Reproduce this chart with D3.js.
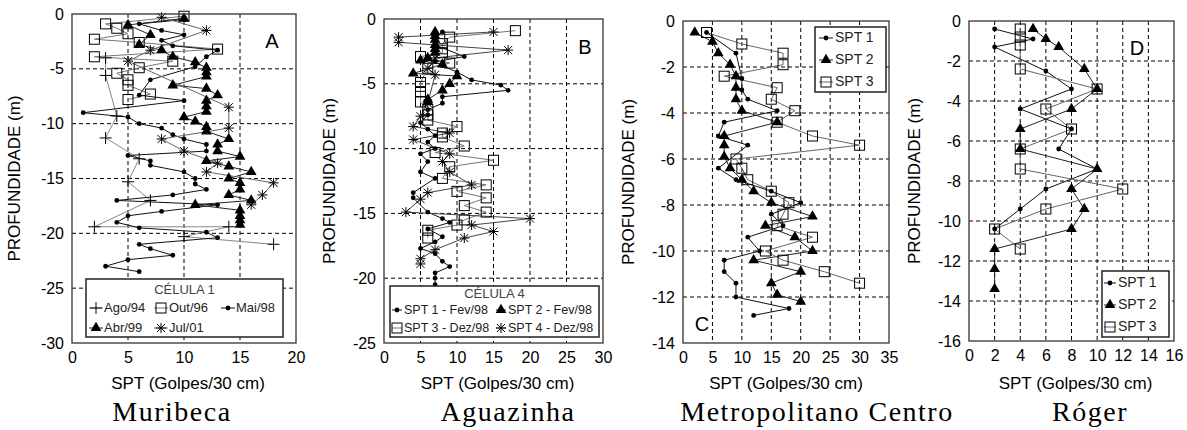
<!DOCTYPE html>
<html>
<head>
<meta charset="utf-8">
<script src="https://cdn.jsdelivr.net/npm/d3@7"></script>
<style>
  body { margin: 0; background: #fff; }
  svg { display: block; }
  text { font-family: "Liberation Sans", Arial, sans-serif; fill: #000; }
</style>
</head>
<body>
<svg id="chart" width="1187" height="430"></svg>
<script>
// ---- Muribeca (Célula 1): [SPT, depth]
const ago94 = [[3,-4.0],[3,-5.6],[4,-9.3],[3,-11.3],[6,-13.2],[5,-15.3],[7,-17.0],[2,-19.4],[14,-19.4],[10,-20.3],[18,-21.0]];
const out96 = [[10,-0.2],[3,-0.9],[4,-1.3],[5,-1.8],[2,-2.3],[6,-2.6],[13,-3.2],[2,-3.9],[9,-4.3],[6,-4.9],[4,-5.4],[5,-6.0],[5,-6.5],[7,-7.3],[5,-7.8]];
const mai98 = [[10,-0.5],[6,-0.9],[8,-1.5],[10,-1.9],[8,-2.4],[9,-2.9],[13,-3.3],[12,-3.9],[11,-4.8],[7,-6.0],[6,-7.4],[10,-7.9],[1,-9.0],[5,-9.4],[6,-10.0],[8,-10.4],[9,-11.0],[10,-11.4],[12,-11.9],[12,-12.5],[5,-12.9],[7,-13.4],[7,-13.8],[10,-14.4],[11,-15.0],[11,-15.5],[12,-16.0],[9,-16.5],[4,-17.0],[13,-17.4],[8,-18.0],[5,-18.4],[4,-19.0],[6,-19.5],[12,-19.9],[13,-20.4],[6,-21.0],[7,-21.4],[9,-22.0],[5,-22.4],[3,-23.0],[6,-23.5]];
const abr99 = [[10,-0.4],[5,-1.0],[7,-1.9],[6,-2.8],[8,-3.3],[9,-3.9],[11,-4.4],[12,-4.9],[12,-5.3],[12,-5.7],[9,-6.5],[12,-6.8],[13,-7.4],[12,-7.9],[12,-8.4],[12,-8.9],[10,-9.4],[11,-9.8],[12,-10.3],[12,-10.7],[14,-11.4],[13,-11.9],[13,-12.5],[15,-13.0],[12,-13.4],[14,-13.9],[16,-14.4],[14,-15.0],[15,-15.4],[15,-16.0],[14,-16.5],[16,-17.0],[11,-17.4],[15,-17.9],[15,-18.4],[15,-18.8],[15,-19.2]];
const jul01 = [[8,-0.3],[12,-1.5],[7,-3.3],[5,-4.3],[14,-8.5],[14,-10.4],[8,-11.4],[10,-12.5],[13,-13.6],[12,-14.4],[18,-15.4],[17,-16.5],[16,-17.4]];

// ---- Aguazinha (Célula 4)
const agSpt1 = [[8,-1.0],[7,-1.5],[7,-2.0],[11,-2.9],[7,-3.3],[8,-3.6],[10,-4.1],[12,-4.7],[16,-5.1],[17,-5.5],[8,-6.0],[8,-6.5],[6,-7.0],[6,-7.4],[5,-8.0],[6,-8.5],[7,-9.0],[6,-9.5],[7,-10.0],[5,-10.4],[6,-11.0],[5,-11.8],[7,-12.3],[4,-13.4],[4,-13.8],[6,-14.9],[8,-15.4],[9,-15.7],[6,-16.2],[8,-16.8],[7,-17.2],[5,-17.7],[7,-18.1],[8,-18.7],[9,-19.1],[7,-19.6],[7,-20.0],[7,-20.5]];
const agSpt2 = [[7,-1.0],[7,-1.3],[7,-1.6],[7,-2.0],[7,-2.3],[7,-2.6],[6,-3.0],[5,-3.2],[8,-3.5],[4,-4.2],[10,-4.4],[9,-5.0],[8,-5.5],[6,-6.2],[6,-6.4]];
const agSpt3 = [[18,-0.9],[9,-1.4],[8,-1.9],[8,-2.3],[8,-2.6],[5,-2.9],[9,-3.4],[6,-3.8],[5,-4.9],[5,-5.2],[5,-5.6],[5,-6.4],[6,-7.0],[6,-7.4],[6,-7.8],[10,-8.3],[8,-8.8],[8,-9.1],[11,-9.8],[7,-10.3],[15,-10.9],[9,-11.4],[8,-12.3],[14,-12.8],[10,-13.3],[14,-13.8],[11,-14.4],[14,-14.9],[11,-15.5],[10,-15.9],[6,-16.3],[6,-16.9]];
const agSpt4 = [[15,-1.0],[2,-1.4],[2,-1.8],[17,-2.4],[7,-3.0],[6,-3.8],[7,-4.3],[6,-6.5],[5,-7.5],[4,-8.3],[9,-8.8],[4,-9.3],[9,-10.4],[8,-11.0],[9,-11.8],[12,-12.8],[6,-13.4],[5,-13.9],[3,-14.9],[20,-15.4],[12,-15.9],[15,-16.4],[11,-16.9],[7,-17.8],[5,-18.5],[5,-18.9]];

// ---- Metropolitano Centro
const mcSpt1 = [[4,-0.5],[9,-1.4],[10,-2.5],[10,-3.0],[11,-3.4],[16,-3.9],[7,-4.4],[6,-5.0],[11,-5.4],[6,-6.4],[9,-6.9],[15,-7.4],[20,-7.9],[15,-8.4],[17,-8.9],[11,-9.4],[13,-10.0],[7,-10.4],[7,-10.9],[9,-11.4],[9,-12.0],[18,-12.5],[12,-12.8]];
const mcSpt2 = [[2,-0.5],[5,-0.9],[6,-1.4],[8,-1.9],[9,-2.4],[9,-2.9],[9,-3.4],[10,-3.9],[16,-4.4],[7,-5.0],[7,-5.4],[7,-5.9],[8,-6.4],[10,-6.9],[12,-7.4],[15,-7.9],[22,-8.5],[14,-8.9],[19,-9.4],[22,-10.0],[12,-10.4],[20,-10.9],[15,-11.4],[16,-11.9],[20,-12.2]];
const mcSpt3 = [[4,-0.5],[10,-1.0],[17,-1.4],[17,-1.9],[7,-2.4],[16,-2.9],[15,-3.4],[19,-3.9],[16,-4.4],[22,-5.0],[30,-5.4],[9,-6.0],[10,-6.4],[11,-6.9],[15,-7.4],[18,-7.9],[17,-8.4],[16,-8.9],[22,-9.4],[14,-10.0],[17,-10.4],[24,-10.9],[30,-11.4]];

// ---- Róger
const rgSpt1 = [[2,-0.4],[5,-0.9],[2,-1.3],[6,-2.5],[8,-3.4],[4,-4.4],[8,-5.4],[7,-6.4],[10,-7.4],[6,-8.4],[4,-9.4],[2,-10.4]];
const rgSpt2 = [[5,-0.4],[6,-0.9],[7,-1.3],[9,-2.4],[10,-3.4],[8,-4.4],[4,-5.4],[4,-6.4],[10,-7.4],[8,-8.4],[9,-9.4],[8,-10.4],[2,-11.4],[2,-12.4],[2,-13.4]];
const rgSpt3 = [[4,-0.4],[4,-0.8],[4,-1.2],[4,-2.4],[10,-3.4],[6,-4.4],[8,-5.4],[4,-6.4],[4,-7.4],[12,-8.4],[6,-9.4],[2,-10.4],[4,-11.4]];

const svg = d3.select('#chart');

function marker(g, type, cx, cy, col) {
    col = col || '#000';
    if (type === 'dot') {
        g.append('circle').attr('cx', cx).attr('cy', cy).attr('r', 2.4).attr('fill', col);
    } else if (type === 'tri') {
        g.append('path').attr('d', d3.symbol(d3.symbolTriangle, 50)())
            .attr('transform', `translate(${cx},${cy})`).attr('fill', col);
    } else if (type === 'sq') {
        g.append('rect').attr('x', cx - 5).attr('y', cy - 5).attr('width', 10).attr('height', 10)
            .attr('fill', 'none').attr('stroke', col).attr('stroke-width', 1);
    } else if (type === 'plus') {
        g.append('path').attr('d', `M${cx - 6},${cy}h12M${cx},${cy - 6}v12`)
            .attr('stroke', col).attr('stroke-width', 1);
    } else if (type === 'star') {
        g.append('path').attr('d', `M${cx - 5},${cy}h10M${cx},${cy - 5}v10M${cx - 4},${cy - 4}l8,8M${cx - 4},${cy + 4}l8,-8`)
            .attr('stroke', col).attr('stroke-width', 1);
    }
}

function drawPanel(p) {
    const x = d3.scaleLinear().domain([0, p.xmax]).range([p.left, p.right]);
    const y = d3.scaleLinear().domain([0, p.ymin]).range([p.top, p.bottom]);
    const g = svg.append('g');
    const xt = d3.range(0, p.xmax + 0.001, p.xstep);
    const yt = d3.range(0, p.ymin - 0.001, -p.ystep);

    // dashed grid
    g.append('g').selectAll('line').data(xt.slice(1, -1)).enter().append('line')
        .attr('x1', d => x(d)).attr('x2', d => x(d)).attr('y1', p.top).attr('y2', p.bottom)
        .attr('stroke', '#000').attr('stroke-dasharray', '4,3');
    g.append('g').selectAll('line').data(yt.slice(1, -1)).enter().append('line')
        .attr('y1', d => y(d)).attr('y2', d => y(d)).attr('x1', p.left).attr('x2', p.right)
        .attr('stroke', '#000').attr('stroke-dasharray', '4,3');

    // axes
    const ax = g.append('g').attr('transform', `translate(0,${p.bottom})`)
        .call(d3.axisBottom(x).tickValues(xt).tickSize(0).tickPadding(9).tickFormat(d => String(d)));
    const ay = g.append('g').attr('transform', `translate(${p.left},0)`)
        .call(d3.axisLeft(y).tickValues(yt).tickSize(0).tickPadding(8).tickFormat(d => String(d)));
    [ax, ay].forEach(a => {
        a.select('.domain').remove();
        a.selectAll('text').attr('font-size', 16).attr('font-family', '"Liberation Sans", Arial, sans-serif');
    });

    // series
    const line = d3.line().x(d => x(d[0])).y(d => y(d[1]));
    p.series.forEach(s => {
        g.append('path').attr('d', line(s.data)).attr('fill', 'none')
            .attr('stroke', s.line).attr('stroke-width', 1);
    });
    p.series.forEach(s => {
        const mg = g.append('g');
        s.data.forEach(d => marker(mg, s.mark, x(d[0]), y(d[1])));
    });

    // frame
    g.append('rect').attr('x', p.left).attr('y', p.top)
        .attr('width', p.right - p.left).attr('height', p.bottom - p.top)
        .attr('fill', 'none').attr('stroke', '#333').attr('stroke-width', 1.3);

    // legend
    const L = p.legend;
    const lg = g.append('g');
    lg.append('rect').attr('x', L.x).attr('y', L.y).attr('width', L.w).attr('height', L.h)
        .attr('fill', '#fff').attr('stroke', '#222').attr('stroke-width', 1.5);
    if (L.title) {
        lg.append('text').attr('x', L.x + L.w / 2).attr('y', L.titleY).attr('text-anchor', 'middle')
            .attr('font-size', 13).style('fill', '#444').text(L.title);
    }
    L.items.forEach(it => {
        const s = p.series[it.i];
        lg.append('line').attr('x1', it.mx - L.seg).attr('x2', it.mx + L.seg).attr('y1', it.y - 4).attr('y2', it.y - 4)
            .attr('stroke', s.line);
        marker(lg, s.mark, it.mx, it.y - 4);
        lg.append('text').attr('x', it.mx + L.gap).attr('y', it.y).attr('font-size', L.fs)
            .style('fill', '#222').text(s.name);
    });

    // labels
    g.append('text').attr('x', (p.left + p.right) / 2 + p.xlabShift).attr('y', 389).attr('text-anchor', 'middle')
        .attr('font-size', 17).text('SPT (Golpes/30 cm)');
    g.append('text').attr('transform', `translate(${p.ylabX},${(p.top + p.bottom) / 2}) rotate(-90)`)
        .attr('text-anchor', 'middle').attr('dy', '0.35em').attr('font-size', 17).text('PROFUNDIDADE (m)');
    g.append('text').attr('x', p.letter[1]).attr('y', p.letter[2]).attr('text-anchor', 'middle')
        .attr('font-size', 20).text(p.letter[0]);
    g.append('text').attr('x', p.titleX).attr('y', 421).attr('text-anchor', 'middle')
        .attr('font-size', 28).attr('letter-spacing', 1.5)
        .style('font-family', '"Liberation Serif", "Times New Roman", serif').text(p.title);
}

drawPanel({
    left: 72, right: 296, top: 14, bottom: 343, xmax: 20, xstep: 5, ymin: -30, ystep: 5,
    ylabX: 14, xlabShift: 4, letter: ['A', 272, 48], title: 'Muribeca', titleX: 172,
    series: [
        { name: 'Ago/94', data: ago94, mark: 'plus', line: '#888' },
        { name: 'Out/96', data: out96, mark: 'sq', line: '#777' },
        { name: 'Mai/98', data: mai98, mark: 'dot', line: '#111' },
        { name: 'Abr/99', data: abr99, mark: 'tri', line: '#222' },
        { name: 'Jul/01', data: jul01, mark: 'star', line: '#666' }
    ],
    legend: { x: 86, y: 279, w: 197, h: 58, title: 'CÉLULA 1', titleY: 294, fs: 13, seg: 7, gap: 8,
        items: [ { i: 0, mx: 96, y: 312 }, { i: 1, mx: 161, y: 312 }, { i: 2, mx: 228, y: 312 },
                 { i: 3, mx: 96, y: 332 }, { i: 4, mx: 161, y: 332 } ] }
});

drawPanel({
    left: 384, right: 603, top: 19, bottom: 343, xmax: 30, xstep: 5, ymin: -25, ystep: 5,
    ylabX: 329, xlabShift: 4, letter: ['B', 585, 54], title: 'Aguazinha', titleX: 508,
    series: [
        { name: 'SPT 1 - Fev/98', data: agSpt1, mark: 'dot', line: '#111' },
        { name: 'SPT 2 - Fev/98', data: agSpt2, mark: 'tri', line: '#222' },
        { name: 'SPT 3 - Dez/98', data: agSpt3, mark: 'sq', line: '#777' },
        { name: 'SPT 4 - Dez/98', data: agSpt4, mark: 'star', line: '#444' }
    ],
    legend: { x: 390, y: 286, w: 209, h: 51, title: 'CÉLULA 4', titleY: 298, fs: 12.5, seg: 5, gap: 7,
        items: [ { i: 0, mx: 397, y: 314 }, { i: 1, mx: 501, y: 314 },
                 { i: 2, mx: 397, y: 332 }, { i: 3, mx: 501, y: 332 } ] }
});

drawPanel({
    left: 683, right: 889, top: 21, bottom: 343, xmax: 35, xstep: 5, ymin: -14, ystep: 2,
    ylabX: 628, xlabShift: 0, letter: ['C', 702, 331], title: 'Metropolitano Centro', titleX: 817,
    series: [
        { name: 'SPT 1', data: mcSpt1, mark: 'dot', line: '#111' },
        { name: 'SPT 2', data: mcSpt2, mark: 'tri', line: '#222' },
        { name: 'SPT 3', data: mcSpt3, mark: 'sq', line: '#666' }
    ],
    legend: { x: 815, y: 27, w: 71, h: 65, fs: 14, seg: 7, gap: 9,
        items: [ { i: 0, mx: 826, y: 42 }, { i: 1, mx: 826, y: 64 }, { i: 2, mx: 826, y: 86 } ] }
});

drawPanel({
    left: 969, right: 1174, top: 21, bottom: 341, xmax: 16, xstep: 2, ymin: -16, ystep: 2,
    ylabX: 914, xlabShift: 4, letter: ['D', 1137, 55], title: 'Róger', titleX: 1090,
    series: [
        { name: 'SPT 1', data: rgSpt1, mark: 'dot', line: '#111' },
        { name: 'SPT 2', data: rgSpt2, mark: 'tri', line: '#222' },
        { name: 'SPT 3', data: rgSpt3, mark: 'sq', line: '#666' }
    ],
    legend: { x: 1102, y: 271, w: 67, h: 66, fs: 14, seg: 6, gap: 8,
        items: [ { i: 0, mx: 1110, y: 287 }, { i: 1, mx: 1110, y: 309 }, { i: 2, mx: 1110, y: 331 } ] }
});
</script>
</body>
</html>
